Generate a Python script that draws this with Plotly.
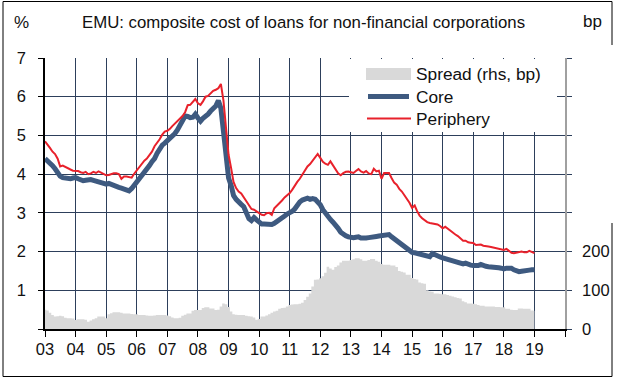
import pandas as pd
import plotly.graph_objects as go

# ---------------- data (monthly, Jan 2003 - Jan 2019) ----------------
core = [
    4.40, 4.35, 4.30, 4.22, 4.14, 4.02, 3.95, 3.91, 3.89, 3.88, 3.88, 3.90,
    3.91, 3.88, 3.84, 3.83, 3.84, 3.86, 3.86, 3.84, 3.83, 3.80, 3.78, 3.76,
    3.74, 3.76, 3.73, 3.69, 3.67, 3.66, 3.64, 3.61, 3.58, 3.57, 3.63, 3.71,
    3.77, 3.86, 3.96, 4.05, 4.12, 4.22, 4.32, 4.40, 4.54, 4.66, 4.75, 4.80,
    4.86, 4.94, 5.00, 5.05, 5.14, 5.26, 5.38, 5.50, 5.49, 5.46, 5.47, 5.55,
    5.45, 5.37, 5.44, 5.49, 5.55, 5.63, 5.68, 5.76, 5.90, 5.70, 5.10, 4.45,
    3.90, 3.70, 3.45, 3.35, 3.26, 3.22, 3.16, 3.00, 2.85, 2.80, 2.88, 2.82,
    2.74, 2.71, 2.71, 2.70, 2.69, 2.70, 2.73, 2.77, 2.82, 2.85, 2.92, 2.97,
    2.99, 3.04, 3.10, 3.20, 3.28, 3.33, 3.37, 3.38, 3.35, 3.37, 3.35, 3.29,
    3.21, 3.08, 2.98, 2.90, 2.83, 2.76, 2.70, 2.60, 2.50, 2.44, 2.41, 2.38,
    2.36, 2.36, 2.37, 2.38, 2.35, 2.34, 2.35, 2.36, 2.38, 2.38, 2.39, 2.40,
    2.41, 2.43, 2.46, 2.44, 2.38, 2.33, 2.28, 2.22, 2.17, 2.12, 2.07, 2.03,
    1.98, 1.97, 1.95, 1.93, 1.91, 1.90, 1.88, 1.87, 1.95, 1.91, 1.87, 1.86,
    1.84, 1.82, 1.81, 1.79, 1.76, 1.74, 1.72, 1.70, 1.68, 1.70, 1.66, 1.65,
    1.64, 1.63, 1.64, 1.67, 1.63, 1.62, 1.61, 1.61, 1.60, 1.59, 1.58, 1.57,
    1.55, 1.57, 1.57, 1.57, 1.53, 1.50, 1.48, 1.49, 1.51, 1.53, 1.52, 1.53,
    1.53,
]

periphery = [
    4.85, 4.77, 4.68, 4.58, 4.52, 4.40, 4.20, 4.22, 4.18, 4.15, 4.12, 4.09,
    4.09, 4.08, 4.05, 4.03, 4.06, 4.00, 4.02, 4.06, 4.03, 4.07, 4.04, 4.00,
    3.97, 3.98, 4.00, 4.02, 4.02, 4.00, 3.88, 3.94, 3.94, 3.93, 3.91, 4.01,
    4.10, 4.20, 4.29, 4.35, 4.40, 4.48, 4.58, 4.72, 4.80, 4.90, 5.02, 5.10,
    5.12, 5.17, 5.24, 5.30, 5.36, 5.42, 5.50, 5.60, 5.78, 5.79, 5.88, 5.94,
    5.83, 5.79, 5.88, 6.00, 6.02, 6.08, 6.15, 6.18, 6.22, 6.33, 5.90, 5.20,
    4.50, 4.15, 3.80, 3.64, 3.55, 3.50, 3.40, 3.29, 3.18, 3.10, 3.08, 3.04,
    2.99, 2.95, 2.94, 2.99, 3.00, 2.95, 3.12, 3.18, 3.25, 3.32, 3.40, 3.45,
    3.51, 3.60, 3.70, 3.80, 3.88, 3.98, 4.08, 4.20, 4.26, 4.34, 4.42, 4.52,
    4.42, 4.32, 4.27, 4.24, 4.33, 4.22, 4.10, 4.02, 3.97, 4.03, 4.06, 4.07,
    4.05, 4.03, 4.08, 4.13, 4.07, 4.04, 4.08, 4.02, 4.00, 4.14, 4.07, 4.09,
    3.88, 4.03, 4.03, 4.03, 3.90, 3.78, 3.73, 3.62, 3.55, 3.46, 3.36, 3.26,
    3.13, 3.19, 3.05, 2.93, 2.86, 2.80, 2.76, 2.74, 2.72, 2.71, 2.70, 2.66,
    2.60, 2.64, 2.59, 2.53, 2.48, 2.44, 2.40, 2.34, 2.28, 2.28, 2.24, 2.23,
    2.22, 2.17, 2.18, 2.18, 2.15, 2.13, 2.13, 2.12, 2.10, 2.09, 2.07, 2.06,
    2.04, 2.07, 2.01, 1.97, 1.96, 1.98, 1.98, 2.00, 1.98, 1.98, 2.02, 1.99,
    1.96,
]

spread_bp = [
    50, 48, 42, 36, 32, 33, 34, 33, 29, 28, 28, 27,
    23, 25, 25, 25, 24, 19, 22, 25, 28, 32, 32, 32,
    28, 38, 41, 43, 43, 43, 42, 40, 40, 40, 39, 38,
    38, 36, 36, 36, 35, 34, 34, 35, 36, 36, 36, 36,
    35, 33, 30, 28, 28, 29, 34, 37, 40, 40, 47, 49,
    49, 49, 54, 56, 56, 53, 53, 49, 50, 58, 66, 64,
    57, 45, 38, 37, 36, 36, 36, 34, 33, 32, 30, 24,
    26, 32, 32, 35, 38, 42, 45, 47, 52, 54, 55, 58,
    62, 63, 64, 64, 65, 68, 75, 83, 92, 110, 127, 128,
    131, 136, 145, 161, 156, 153, 160, 164, 172, 176, 176, 176,
    178, 180, 183, 183, 180, 176, 176, 178, 181, 181, 176, 174,
    168, 166, 166, 166, 164, 164, 160, 150, 148, 146, 140, 140,
    132, 129, 128, 120, 118, 117, 100, 97, 96, 92, 92, 91,
    90, 90, 88, 86, 84, 82, 80, 79, 72, 69, 66, 66,
    65, 64, 62, 60, 60, 58, 58, 58, 58, 57, 57, 56,
    56, 52, 52, 50, 49, 49, 53, 53, 52, 52, 52, 48,
    47,
]

dates = pd.date_range("2003-01-01", periods=len(core), freq="MS")

years = list(range(2003, 2021))
x_tick_vals = [f"{y}-01-01" for y in years]
x_tick_text = [f"{y % 100:02d}" for y in years[:-1]] + [""]
left_tick_vals = [0, 1, 2, 3, 4, 5, 6, 7]
left_tick_text = ["", "1", "2", "3", "4", "5", "6", "7"]
right_tick_vals = [0, 100, 200, 300, 400, 500, 600, 700]
right_tick_text = ["0", "100", "200", "", "", "", "", ""]

title_text = "EMU: composite cost of loans for non-financial corporations"
legend_names = ["Spread (rhs, bp)", "Core", "Periphery"]

# ---------------- styling ----------------
W, H = 618, 381
L, R, T, B = 45, 565, 58, 329          # plot area in pixels
FONT = "Liberation Sans, Arial, sans-serif"
TXT = "#111111"
GRID = "#2D3F5B"
CORE_C = "#3E5A80"
PERI_C = "#E8212B"
SPREAD_C = "#D9D9D9"
TICK_FS = 16.5


def px(x):
    return (x - L) / (R - L)


def py(y):
    return (B - y) / (B - T)


fig = go.Figure()

fig.add_trace(go.Scatter(
    x=dates, y=spread_bp, yaxis="y2", mode="lines",
    line=dict(width=0, shape="hvh", color=SPREAD_C),
    fill="tozeroy", fillcolor=SPREAD_C, name=legend_names[0],
    showlegend=False, hoverinfo="skip",
))
fig.add_trace(go.Scatter(
    x=dates, y=core, mode="lines",
    line=dict(width=5, color=CORE_C), name=legend_names[1], showlegend=False,
))
fig.add_trace(go.Scatter(
    x=dates, y=periphery, mode="lines",
    line=dict(width=2, color=PERI_C), name=legend_names[2], showlegend=False,
))

fig.update_layout(
    width=W, height=H,
    margin=dict(l=L, r=W - R, t=T, b=H - B, pad=0, autoexpand=False),
    paper_bgcolor="white", plot_bgcolor="white",
    font=dict(family=FONT, size=TICK_FS, color=TXT),
    xaxis=dict(
        type="date", range=["2003-01-01", "2020-01-01"],
        tickmode="array", tickvals=x_tick_vals, ticktext=x_tick_text,
        showgrid=True, gridcolor=GRID, gridwidth=1,
        showline=True, linecolor="black", linewidth=1.5,
        ticks="outside", ticklen=6, tickcolor="black", tickwidth=1,
        ticklabelstandoff=-2, zeroline=False, automargin=False,
    ),
    yaxis=dict(
        range=[0, 7], tickmode="array", tickvals=left_tick_vals, ticktext=left_tick_text,
        showgrid=True, gridcolor=GRID, gridwidth=1,
        showline=True, linecolor="black", linewidth=1.5,
        ticks="outside", ticklen=5, tickcolor="black", tickwidth=1,
        ticklabelstandoff=9, zeroline=False, automargin=False,
    ),
    yaxis2=dict(
        range=[0, 700], overlaying="y", side="right",
        tickmode="array", tickvals=right_tick_vals, ticktext=right_tick_text,
        showgrid=False, showline=True, linecolor="#A0A0A0", linewidth=1.5,
        ticks="outside", ticklen=5, tickcolor=GRID, tickwidth=1,
        ticklabelstandoff=7, zeroline=False, automargin=False,
    ),
    showlegend=False,
)

shapes = []
# outer frame
fx0, fx1, fy0, fy1 = 3, 612, 1.5, 376.5
shapes += [
    dict(type="line", xref="paper", yref="paper", x0=px(fx0), x1=px(fx1), y0=py(fy0), y1=py(fy0),
         line=dict(color="black", width=1)),
    dict(type="line", xref="paper", yref="paper", x0=px(fx0), x1=px(fx1), y0=py(fy1), y1=py(fy1),
         line=dict(color="black", width=1)),
    dict(type="line", xref="paper", yref="paper", x0=px(fx0), x1=px(fx0), y0=py(fy0), y1=py(fy1),
         line=dict(color="black", width=1)),
    dict(type="line", xref="paper", yref="paper", x0=px(fx1), x1=px(fx1), y0=py(fy0), y1=py(45),
         line=dict(color="black", width=1)),
    dict(type="line", xref="paper", yref="paper", x0=px(fx1), x1=px(fx1), y0=py(223), y1=py(fy1),
         line=dict(color="black", width=1)),
]
# legend box
shapes.append(dict(type="rect", xref="paper", yref="paper", layer="above",
                   x0=px(349), x1=px(557), y0=py(132), y1=py(59),
                   fillcolor="white", line=dict(width=0)))
shapes.append(dict(type="rect", xref="paper", yref="paper", layer="above",
                   x0=px(366), x1=px(411), y0=py(80), y1=py(68),
                   fillcolor=SPREAD_C, line=dict(width=0)))
shapes.append(dict(type="line", xref="paper", yref="paper", layer="above",
                   x0=px(368), x1=px(409), y0=py(96.5), y1=py(96.5),
                   line=dict(color=CORE_C, width=5)))
shapes.append(dict(type="line", xref="paper", yref="paper", layer="above",
                   x0=px(367), x1=px(411), y0=py(118.5), y1=py(118.5),
                   line=dict(color=PERI_C, width=2)))
fig.update_layout(shapes=shapes)

ann = []
for name, yy in zip(legend_names, [73.5, 96.5, 118.5]):
    ann.append(dict(text=name, xref="paper", yref="paper", x=px(414), y=py(yy),
                    xanchor="left", yanchor="middle", showarrow=False,
                    font=dict(family=FONT, size=17.3, color=TXT)))
ann.append(dict(text=title_text, xref="paper", yref="paper", x=px(303.5), y=py(22),
                xanchor="center", yanchor="middle", showarrow=False,
                font=dict(family=FONT, size=16.8, color=TXT)))
ann.append(dict(text="%", xref="paper", yref="paper", x=px(21), y=py(22),
                xanchor="center", yanchor="middle", showarrow=False,
                font=dict(family=FONT, size=17, color=TXT)))
ann.append(dict(text="bp", xref="paper", yref="paper", x=px(592), y=py(21),
                xanchor="center", yanchor="middle", showarrow=False,
                font=dict(family=FONT, size=17, color=TXT)))
fig.update_layout(annotations=ann)

fig.write_html("out.html", config={"displayModeBar": False},
               post_script="document.body.style.margin='0px';")
